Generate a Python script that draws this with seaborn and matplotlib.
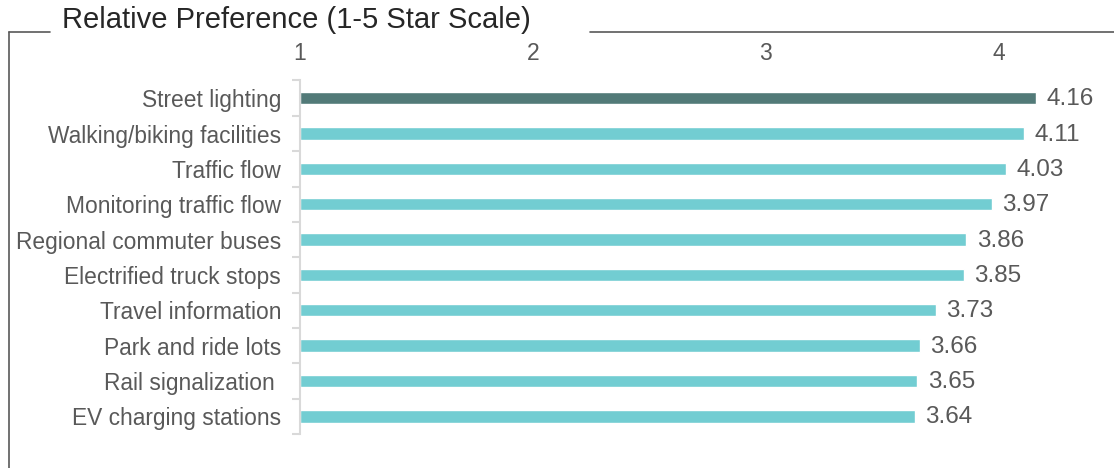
import matplotlib
matplotlib.use("Agg")
import matplotlib.pyplot as plt
from matplotlib.lines import Line2D
from matplotlib.ticker import FixedLocator
import seaborn as sns
import pandas as pd

categories = ["Street lighting", "Walking/biking facilities", "Traffic flow",
              "Monitoring traffic flow", "Regional commuter buses",
              "Electrified truck stops", "Travel information",
              "Park and ride lots", "Rail signalization ", "EV charging stations"]
values = [4.16, 4.11, 4.03, 3.97, 3.86, 3.85, 3.73, 3.66, 3.65, 3.64]
x_ticks = [1, 2, 3, 4]
title = "Relative Preference (1-5 Star Scale)"

sns.set_theme(style="white")
plt.rcParams['font.family'] = ['Liberation Sans', 'DejaVu Sans']
TXT = "#595959"

W, H = 1114, 468
fig = plt.figure(figsize=(W / 100, H / 100), dpi=100)
ax = fig.add_axes([300 / W, (H - 434) / H, (1092 - 300) / W, (434 - 80.5) / H])

df = pd.DataFrame({"cat": categories, "val": values})
palette = ["#527A78"] + ["#72CDD2"] * (len(categories) - 1)
sns.barplot(data=df, x="val", y="cat", hue="cat", palette=palette, legend=False,
            orient="h", width=0.35, saturation=1, ax=ax)
for p, v in zip(ax.patches, values):
    p.set_x(1)
    p.set_width(v - 1)

ax.set_xlim(1, 4.4)
ax.set_ylim(len(categories) - 0.5, -0.5)
ax.set_xlabel("")
ax.set_ylabel("")

ax.xaxis.tick_top()
ax.set_xticks(x_ticks)
ax.set_xticklabels([str(t) for t in x_ticks])
ax.tick_params(axis="x", length=0, pad=11, labelsize=16.5, labelcolor=TXT)
ax.tick_params(axis="y", which="major", length=0, pad=13.5, labelsize=16.4, labelcolor=TXT)
ax.yaxis.set_minor_locator(FixedLocator([i - 0.5 for i in range(len(categories) + 1)]))
ax.tick_params(axis="y", which="minor", length=6, width=1.5, color="#D9D9D9", left=True)

for s in ["top", "right", "bottom"]:
    ax.spines[s].set_visible(False)
ax.spines["left"].set_color("#D9D9D9")
ax.spines["left"].set_linewidth(1.5)
ax.grid(False)

for i, v in enumerate(values):
    ax.text(v + 0.045, i + 0.03, f"{v:.2f}", va="center", ha="left",
            fontsize=17.5, color=TXT)

def fx(x): return x / W
def fy(y): return 1 - y / H
fig.add_artist(Line2D([fx(8.5), fx(8.5)], [fy(32), fy(468)], color=TXT, lw=1.2))
fig.add_artist(Line2D([fx(8.5), fx(50)], [fy(32), fy(32)], color=TXT, lw=1.2))
fig.add_artist(Line2D([fx(590), fx(1114)], [fy(32), fy(32)], color=TXT, lw=1.2))
fig.text(fx(62), fy(20), title, fontsize=21, color="#262626", va="center", ha="left")

fig.savefig("out.png", dpi=100)
